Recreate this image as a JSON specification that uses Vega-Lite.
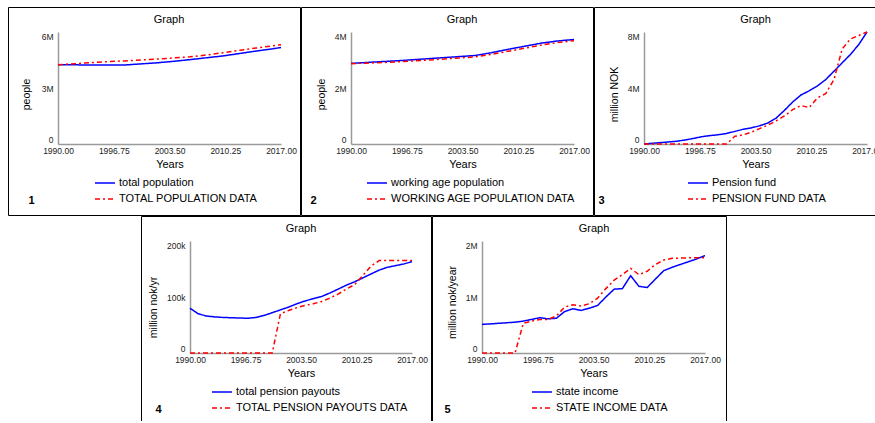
{
"$schema": "https://vega.github.io/schema/vega-lite/v6.json",
"padding": {"left": 7, "top": 6, "right": 0, "bottom": -4},
"autosize": {"type": "pad"},
"spacing": -1,
"resolve": {"scale": {"color": "independent", "strokeDash": "independent"}, "legend": {"color": "independent", "strokeDash": "independent"}},
"vconcat": [
{
"hconcat": [
{
"title": {"text": "1", "orient": "bottom", "anchor": "start", "dx": 21, "offset": -21, "baseline": "top", "fontWeight": "bold"},
"resolve": {"scale": {"color": "independent", "strokeDash": "independent"}, "legend": {"color": "independent", "strokeDash": "independent"}},
"hconcat": [{
"width": 292, "height": 208,
"title": {"text": "Graph", "anchor": "middle", "dx": 15, "dy": 12, "offset": -17, "baseline": "bottom"},
"data": {"values": [
{"year":1990,"value":4250000,"series":"total population"},
{"year":1992,"value":4240000,"series":"total population"},
{"year":1994,"value":4235000,"series":"total population"},
{"year":1996,"value":4230000,"series":"total population"},
{"year":1998,"value":4230000,"series":"total population"},
{"year":2000,"value":4290000,"series":"total population"},
{"year":2002,"value":4350000,"series":"total population"},
{"year":2004,"value":4430000,"series":"total population"},
{"year":2006,"value":4520000,"series":"total population"},
{"year":2008,"value":4620000,"series":"total population"},
{"year":2010,"value":4720000,"series":"total population"},
{"year":2012,"value":4850000,"series":"total population"},
{"year":2014,"value":4980000,"series":"total population"},
{"year":2016,"value":5100000,"series":"total population"},
{"year":2017,"value":5170000,"series":"total population"},
{"year":1990,"value":4250000,"series":"TOTAL POPULATION DATA"},
{"year":1992,"value":4300000,"series":"TOTAL POPULATION DATA"},
{"year":1994,"value":4360000,"series":"TOTAL POPULATION DATA"},
{"year":1996,"value":4410000,"series":"TOTAL POPULATION DATA"},
{"year":1998,"value":4450000,"series":"TOTAL POPULATION DATA"},
{"year":2000,"value":4500000,"series":"TOTAL POPULATION DATA"},
{"year":2002,"value":4550000,"series":"TOTAL POPULATION DATA"},
{"year":2004,"value":4610000,"series":"TOTAL POPULATION DATA"},
{"year":2006,"value":4670000,"series":"TOTAL POPULATION DATA"},
{"year":2008,"value":4770000,"series":"TOTAL POPULATION DATA"},
{"year":2010,"value":4890000,"series":"TOTAL POPULATION DATA"},
{"year":2012,"value":5020000,"series":"TOTAL POPULATION DATA"},
{"year":2014,"value":5140000,"series":"TOTAL POPULATION DATA"},
{"year":2016,"value":5260000,"series":"TOTAL POPULATION DATA"},
{"year":2017,"value":5320000,"series":"TOTAL POPULATION DATA"}
]},
"mark": {"type": "line", "strokeWidth": 1.5},
"encoding": {
"x": {"field": "year", "type": "quantitative", "scale": {"domain": [1990, 2017], "range": [50, 273], "nice": false}, "axis": {"values": [1990, 1996.75, 2003.5, 2010.25, 2017], "format": ".2f", "title": "Years", "offset": -71, "labelFlush": false, "labelPadding": 2, "titlePadding": 4, "titleFontSize": 11}},
"y": {"field": "value", "type": "quantitative", "scale": {"domain": [0, 6000000], "range": [137, 25], "nice": false, "zero": false}, "axis": {"values": [0, 3000000, 6000000], "labelExpr": "datum.value == 0 ? '0' : format(datum.value, '~s')", "title": "people", "offset": -50, "labelFlush": true, "labelPadding": 5, "titlePadding": 10, "titleFontSize": 10.5, "titleY": 87}},
"color": {"field": "series", "type": "nominal", "scale": {"domain": ["total population", "TOTAL POPULATION DATA"], "range": ["#0000ff", "#ff0000"]}, "legend": {"orient": "none", "legendX": 86, "legendY": 165, "title": null}},
"strokeDash": {"field": "series", "type": "nominal", "scale": {"domain": ["total population", "TOTAL POPULATION DATA"], "range": [[1, 0], [5, 3, 2, 3]]}, "legend": {"orient": "none", "legendX": 86, "legendY": 165, "title": null}}
}
}]
},
{
"title": {"text": "2", "orient": "bottom", "anchor": "start", "dx": 10, "offset": -21, "baseline": "top", "fontWeight": "bold"},
"resolve": {"scale": {"color": "independent", "strokeDash": "independent"}, "legend": {"color": "independent", "strokeDash": "independent"}},
"hconcat": [{
"width": 292, "height": 208,
"title": {"text": "Graph", "anchor": "middle", "dx": 15, "dy": 12, "offset": -17, "baseline": "bottom"},
"data": {"values": [
{"year":1990,"value":2880000,"series":"working age population"},
{"year":1993,"value":2930000,"series":"working age population"},
{"year":1996,"value":2980000,"series":"working age population"},
{"year":1999,"value":3040000,"series":"working age population"},
{"year":2002,"value":3100000,"series":"working age population"},
{"year":2005,"value":3160000,"series":"working age population"},
{"year":2007,"value":3260000,"series":"working age population"},
{"year":2009,"value":3380000,"series":"working age population"},
{"year":2011,"value":3490000,"series":"working age population"},
{"year":2013,"value":3600000,"series":"working age population"},
{"year":2015,"value":3680000,"series":"working age population"},
{"year":2017,"value":3730000,"series":"working age population"},
{"year":1990,"value":2870000,"series":"WORKING AGE POPULATION DATA"},
{"year":1993,"value":2900000,"series":"WORKING AGE POPULATION DATA"},
{"year":1996,"value":2940000,"series":"WORKING AGE POPULATION DATA"},
{"year":1999,"value":2990000,"series":"WORKING AGE POPULATION DATA"},
{"year":2002,"value":3050000,"series":"WORKING AGE POPULATION DATA"},
{"year":2005,"value":3110000,"series":"WORKING AGE POPULATION DATA"},
{"year":2007,"value":3200000,"series":"WORKING AGE POPULATION DATA"},
{"year":2009,"value":3310000,"series":"WORKING AGE POPULATION DATA"},
{"year":2011,"value":3420000,"series":"WORKING AGE POPULATION DATA"},
{"year":2013,"value":3530000,"series":"WORKING AGE POPULATION DATA"},
{"year":2015,"value":3620000,"series":"WORKING AGE POPULATION DATA"},
{"year":2017,"value":3690000,"series":"WORKING AGE POPULATION DATA"}
]},
"mark": {"type": "line", "strokeWidth": 1.5},
"encoding": {
"x": {"field": "year", "type": "quantitative", "scale": {"domain": [1990, 2017], "range": [50, 273], "nice": false}, "axis": {"values": [1990, 1996.75, 2003.5, 2010.25, 2017], "format": ".2f", "title": "Years", "offset": -71, "labelFlush": false, "labelPadding": 2, "titlePadding": 4, "titleFontSize": 11}},
"y": {"field": "value", "type": "quantitative", "scale": {"domain": [0, 4000000], "range": [137, 25], "nice": false, "zero": false}, "axis": {"values": [0, 2000000, 4000000], "labelExpr": "datum.value == 0 ? '0' : format(datum.value, '~s')", "title": "people", "offset": -50, "labelFlush": true, "labelPadding": 5, "titlePadding": 8, "titleFontSize": 10.5, "titleY": 87}},
"color": {"field": "series", "type": "nominal", "scale": {"domain": ["working age population", "WORKING AGE POPULATION DATA"], "range": ["#0000ff", "#ff0000"]}, "legend": {"orient": "none", "legendX": 65, "legendY": 165, "title": null}},
"strokeDash": {"field": "series", "type": "nominal", "scale": {"domain": ["working age population", "WORKING AGE POPULATION DATA"], "range": [[1, 0], [5, 3, 2, 3]]}, "legend": {"orient": "none", "legendX": 65, "legendY": 165, "title": null}}
}
}]
},
{
"title": {"text": "3", "orient": "bottom", "anchor": "start", "dx": 5, "offset": -21, "baseline": "top", "fontWeight": "bold"},
"resolve": {"scale": {"color": "independent", "strokeDash": "independent"}, "legend": {"color": "independent", "strokeDash": "independent"}},
"hconcat": [{
"width": 293, "height": 208,
"title": {"text": "Graph", "anchor": "middle", "dx": 15, "dy": 12, "offset": -17, "baseline": "bottom"},
"data": {"values": [
{"year":1990,"value":0,"series":"Pension fund"},
{"year":1991,"value":50000,"series":"Pension fund"},
{"year":1992,"value":100000,"series":"Pension fund"},
{"year":1993,"value":150000,"series":"Pension fund"},
{"year":1994,"value":200000,"series":"Pension fund"},
{"year":1995,"value":290000,"series":"Pension fund"},
{"year":1996,"value":400000,"series":"Pension fund"},
{"year":1997,"value":520000,"series":"Pension fund"},
{"year":1998,"value":600000,"series":"Pension fund"},
{"year":1999,"value":660000,"series":"Pension fund"},
{"year":2000,"value":750000,"series":"Pension fund"},
{"year":2001,"value":900000,"series":"Pension fund"},
{"year":2002,"value":1050000,"series":"Pension fund"},
{"year":2003,"value":1150000,"series":"Pension fund"},
{"year":2004,"value":1300000,"series":"Pension fund"},
{"year":2005,"value":1500000,"series":"Pension fund"},
{"year":2006,"value":1850000,"series":"Pension fund"},
{"year":2007,"value":2400000,"series":"Pension fund"},
{"year":2008,"value":3000000,"series":"Pension fund"},
{"year":2009,"value":3500000,"series":"Pension fund"},
{"year":2010,"value":3800000,"series":"Pension fund"},
{"year":2011,"value":4150000,"series":"Pension fund"},
{"year":2012,"value":4600000,"series":"Pension fund"},
{"year":2013,"value":5200000,"series":"Pension fund"},
{"year":2014,"value":5800000,"series":"Pension fund"},
{"year":2015,"value":6400000,"series":"Pension fund"},
{"year":2016,"value":7100000,"series":"Pension fund"},
{"year":2017,"value":8000000,"series":"Pension fund"},
{"year":1990,"value":0,"series":"PENSION FUND DATA"},
{"year":1992,"value":0,"series":"PENSION FUND DATA"},
{"year":1994,"value":0,"series":"PENSION FUND DATA"},
{"year":1996,"value":0,"series":"PENSION FUND DATA"},
{"year":1998,"value":0,"series":"PENSION FUND DATA"},
{"year":2000,"value":0,"series":"PENSION FUND DATA"},
{"year":2001,"value":550000,"series":"PENSION FUND DATA"},
{"year":2002,"value":650000,"series":"PENSION FUND DATA"},
{"year":2003,"value":850000,"series":"PENSION FUND DATA"},
{"year":2004,"value":1100000,"series":"PENSION FUND DATA"},
{"year":2005,"value":1350000,"series":"PENSION FUND DATA"},
{"year":2006,"value":1650000,"series":"PENSION FUND DATA"},
{"year":2007,"value":2000000,"series":"PENSION FUND DATA"},
{"year":2008,"value":2450000,"series":"PENSION FUND DATA"},
{"year":2009,"value":2750000,"series":"PENSION FUND DATA"},
{"year":2010,"value":2600000,"series":"PENSION FUND DATA"},
{"year":2011,"value":3300000,"series":"PENSION FUND DATA"},
{"year":2012,"value":3600000,"series":"PENSION FUND DATA"},
{"year":2013,"value":4600000,"series":"PENSION FUND DATA"},
{"year":2014,"value":6800000,"series":"PENSION FUND DATA"},
{"year":2015,"value":7500000,"series":"PENSION FUND DATA"},
{"year":2016,"value":7750000,"series":"PENSION FUND DATA"},
{"year":2017,"value":8000000,"series":"PENSION FUND DATA"}
]},
"mark": {"type": "line", "strokeWidth": 1.5},
"encoding": {
"x": {"field": "year", "type": "quantitative", "scale": {"domain": [1990, 2017], "range": [50, 273], "nice": false}, "axis": {"values": [1990, 1996.75, 2003.5, 2010.25, 2017], "format": ".2f", "title": "Years", "offset": -71, "labelFlush": false, "labelPadding": 2, "titlePadding": 4, "titleFontSize": 11}},
"y": {"field": "value", "type": "quantitative", "scale": {"domain": [0, 8000000], "range": [137, 25], "nice": false, "zero": false}, "axis": {"values": [0, 4000000, 8000000], "labelExpr": "datum.value == 0 ? '0' : format(datum.value, '~s')", "title": "million NOK", "offset": -50, "labelFlush": true, "labelPadding": 5, "titlePadding": 8, "titleFontSize": 10.5, "titleY": 87}},
"color": {"field": "series", "type": "nominal", "scale": {"domain": ["Pension fund", "PENSION FUND DATA"], "range": ["#0000ff", "#ff0000"]}, "legend": {"orient": "none", "legendX": 93, "legendY": 165, "title": null}},
"strokeDash": {"field": "series", "type": "nominal", "scale": {"domain": ["Pension fund", "PENSION FUND DATA"], "range": [[1, 0], [5, 3, 2, 3]]}, "legend": {"orient": "none", "legendX": 93, "legendY": 165, "title": null}}
}
}]
}
],
"spacing": -1,
"resolve": {"scale": {"color": "independent", "strokeDash": "independent"}, "legend": {"color": "independent", "strokeDash": "independent"}}
},
{
"hconcat": [
{"width": 133, "height": 10, "view": {"stroke": null}, "data": {"values": []}, "mark": "point"},
{
"title": {"text": "4", "orient": "bottom", "anchor": "start", "dx": 15, "offset": -21, "baseline": "top", "fontWeight": "bold"},
"resolve": {"scale": {"color": "independent", "strokeDash": "independent"}, "legend": {"color": "independent", "strokeDash": "independent"}},
"hconcat": [{
"width": 290, "height": 208,
"title": {"text": "Graph", "anchor": "middle", "dx": 15, "dy": 12, "offset": -17, "baseline": "bottom"},
"data": {"values": [
{"year":1990,"value":80000,"series":"total pension payouts"},
{"year":1991,"value":70000,"series":"total pension payouts"},
{"year":1992,"value":66000,"series":"total pension payouts"},
{"year":1993,"value":64500,"series":"total pension payouts"},
{"year":1994,"value":63500,"series":"total pension payouts"},
{"year":1995,"value":63000,"series":"total pension payouts"},
{"year":1996,"value":62500,"series":"total pension payouts"},
{"year":1997,"value":62000,"series":"total pension payouts"},
{"year":1998,"value":63500,"series":"total pension payouts"},
{"year":1999,"value":67000,"series":"total pension payouts"},
{"year":2000,"value":72000,"series":"total pension payouts"},
{"year":2001,"value":77000,"series":"total pension payouts"},
{"year":2002,"value":82000,"series":"total pension payouts"},
{"year":2003,"value":88000,"series":"total pension payouts"},
{"year":2004,"value":93000,"series":"total pension payouts"},
{"year":2005,"value":97000,"series":"total pension payouts"},
{"year":2006,"value":101000,"series":"total pension payouts"},
{"year":2007,"value":107000,"series":"total pension payouts"},
{"year":2008,"value":114000,"series":"total pension payouts"},
{"year":2009,"value":121000,"series":"total pension payouts"},
{"year":2010,"value":127000,"series":"total pension payouts"},
{"year":2011,"value":134000,"series":"total pension payouts"},
{"year":2012,"value":141000,"series":"total pension payouts"},
{"year":2013,"value":148000,"series":"total pension payouts"},
{"year":2014,"value":153000,"series":"total pension payouts"},
{"year":2015,"value":156000,"series":"total pension payouts"},
{"year":2016,"value":159000,"series":"total pension payouts"},
{"year":2017,"value":163000,"series":"total pension payouts"},
{"year":1990,"value":0,"series":"TOTAL PENSION PAYOUTS DATA"},
{"year":1993,"value":0,"series":"TOTAL PENSION PAYOUTS DATA"},
{"year":1996,"value":0,"series":"TOTAL PENSION PAYOUTS DATA"},
{"year":1998,"value":0,"series":"TOTAL PENSION PAYOUTS DATA"},
{"year":2000,"value":0,"series":"TOTAL PENSION PAYOUTS DATA"},
{"year":2001,"value":70000,"series":"TOTAL PENSION PAYOUTS DATA"},
{"year":2002,"value":76000,"series":"TOTAL PENSION PAYOUTS DATA"},
{"year":2003,"value":81000,"series":"TOTAL PENSION PAYOUTS DATA"},
{"year":2004,"value":85000,"series":"TOTAL PENSION PAYOUTS DATA"},
{"year":2005,"value":88000,"series":"TOTAL PENSION PAYOUTS DATA"},
{"year":2006,"value":92000,"series":"TOTAL PENSION PAYOUTS DATA"},
{"year":2007,"value":98000,"series":"TOTAL PENSION PAYOUTS DATA"},
{"year":2008,"value":105000,"series":"TOTAL PENSION PAYOUTS DATA"},
{"year":2009,"value":114000,"series":"TOTAL PENSION PAYOUTS DATA"},
{"year":2010,"value":122000,"series":"TOTAL PENSION PAYOUTS DATA"},
{"year":2011,"value":138000,"series":"TOTAL PENSION PAYOUTS DATA"},
{"year":2012,"value":155000,"series":"TOTAL PENSION PAYOUTS DATA"},
{"year":2013,"value":165000,"series":"TOTAL PENSION PAYOUTS DATA"},
{"year":2015,"value":165000,"series":"TOTAL PENSION PAYOUTS DATA"},
{"year":2017,"value":165000,"series":"TOTAL PENSION PAYOUTS DATA"}
]},
"mark": {"type": "line", "strokeWidth": 1.5},
"encoding": {
"x": {"field": "year", "type": "quantitative", "scale": {"domain": [1990, 2017], "range": [49, 271], "nice": false}, "axis": {"values": [1990, 1996.75, 2003.5, 2010.25, 2017], "format": ".2f", "title": "Years", "offset": -71, "labelFlush": false, "labelPadding": 2, "titlePadding": 4, "titleFontSize": 11}},
"y": {"field": "value", "type": "quantitative", "scale": {"domain": [0, 200000], "range": [137, 25], "nice": false, "zero": false}, "axis": {"values": [0, 100000, 200000], "labelExpr": "datum.value == 0 ? '0' : format(datum.value, '~s')", "title": "million nok/yr", "offset": -49, "labelFlush": true, "labelPadding": 5, "titlePadding": 8, "titleFontSize": 10.5, "titleY": 91}},
"color": {"field": "series", "type": "nominal", "scale": {"domain": ["total pension payouts", "TOTAL PENSION PAYOUTS DATA"], "range": ["#0000ff", "#ff0000"]}, "legend": {"orient": "none", "legendX": 70, "legendY": 165, "title": null}},
"strokeDash": {"field": "series", "type": "nominal", "scale": {"domain": ["total pension payouts", "TOTAL PENSION PAYOUTS DATA"], "range": [[1, 0], [5, 3, 2, 3]]}, "legend": {"orient": "none", "legendX": 70, "legendY": 165, "title": null}}
}
}]
},
{
"title": {"text": "5", "orient": "bottom", "anchor": "start", "dx": 13, "offset": -21, "baseline": "top", "fontWeight": "bold"},
"resolve": {"scale": {"color": "independent", "strokeDash": "independent"}, "legend": {"color": "independent", "strokeDash": "independent"}},
"hconcat": [{
"width": 294, "height": 208,
"title": {"text": "Graph", "anchor": "middle", "dx": 15, "dy": 12, "offset": -17, "baseline": "bottom"},
"data": {"values": [
{"year":1990,"value":510000,"series":"state income"},
{"year":1991,"value":520000,"series":"state income"},
{"year":1992,"value":530000,"series":"state income"},
{"year":1993,"value":540000,"series":"state income"},
{"year":1994,"value":550000,"series":"state income"},
{"year":1995,"value":570000,"series":"state income"},
{"year":1996,"value":600000,"series":"state income"},
{"year":1997,"value":630000,"series":"state income"},
{"year":1998,"value":610000,"series":"state income"},
{"year":1999,"value":620000,"series":"state income"},
{"year":2000,"value":740000,"series":"state income"},
{"year":2001,"value":790000,"series":"state income"},
{"year":2002,"value":760000,"series":"state income"},
{"year":2003,"value":800000,"series":"state income"},
{"year":2004,"value":850000,"series":"state income"},
{"year":2005,"value":1000000,"series":"state income"},
{"year":2006,"value":1140000,"series":"state income"},
{"year":2007,"value":1150000,"series":"state income"},
{"year":2008,"value":1380000,"series":"state income"},
{"year":2009,"value":1190000,"series":"state income"},
{"year":2010,"value":1170000,"series":"state income"},
{"year":2011,"value":1320000,"series":"state income"},
{"year":2012,"value":1470000,"series":"state income"},
{"year":2013,"value":1530000,"series":"state income"},
{"year":2014,"value":1580000,"series":"state income"},
{"year":2015,"value":1630000,"series":"state income"},
{"year":2016,"value":1680000,"series":"state income"},
{"year":2017,"value":1740000,"series":"state income"},
{"year":1990,"value":0,"series":"STATE INCOME DATA"},
{"year":1992,"value":0,"series":"STATE INCOME DATA"},
{"year":1994,"value":0,"series":"STATE INCOME DATA"},
{"year":1995,"value":530000,"series":"STATE INCOME DATA"},
{"year":1996,"value":570000,"series":"STATE INCOME DATA"},
{"year":1997,"value":600000,"series":"STATE INCOME DATA"},
{"year":1998,"value":600000,"series":"STATE INCOME DATA"},
{"year":1999,"value":660000,"series":"STATE INCOME DATA"},
{"year":2000,"value":820000,"series":"STATE INCOME DATA"},
{"year":2001,"value":860000,"series":"STATE INCOME DATA"},
{"year":2002,"value":840000,"series":"STATE INCOME DATA"},
{"year":2003,"value":880000,"series":"STATE INCOME DATA"},
{"year":2004,"value":980000,"series":"STATE INCOME DATA"},
{"year":2005,"value":1150000,"series":"STATE INCOME DATA"},
{"year":2006,"value":1300000,"series":"STATE INCOME DATA"},
{"year":2007,"value":1400000,"series":"STATE INCOME DATA"},
{"year":2008,"value":1510000,"series":"STATE INCOME DATA"},
{"year":2009,"value":1400000,"series":"STATE INCOME DATA"},
{"year":2010,"value":1460000,"series":"STATE INCOME DATA"},
{"year":2011,"value":1580000,"series":"STATE INCOME DATA"},
{"year":2012,"value":1660000,"series":"STATE INCOME DATA"},
{"year":2013,"value":1690000,"series":"STATE INCOME DATA"},
{"year":2015,"value":1700000,"series":"STATE INCOME DATA"},
{"year":2017,"value":1700000,"series":"STATE INCOME DATA"}
]},
"mark": {"type": "line", "strokeWidth": 1.5},
"encoding": {
"x": {"field": "year", "type": "quantitative", "scale": {"domain": [1990, 2017], "range": [50, 273], "nice": false}, "axis": {"values": [1990, 1996.75, 2003.5, 2010.25, 2017], "format": ".2f", "title": "Years", "offset": -71, "labelFlush": false, "labelPadding": 2, "titlePadding": 4, "titleFontSize": 11}},
"y": {"field": "value", "type": "quantitative", "scale": {"domain": [0, 2000000], "range": [137, 25], "nice": false, "zero": false}, "axis": {"values": [0, 1000000, 2000000], "labelExpr": "datum.value == 0 ? '0' : format(datum.value, '~s')", "title": "million nok/year", "offset": -50, "labelFlush": true, "labelPadding": 5, "titlePadding": 8, "titleFontSize": 10.5, "titleY": 86}},
"color": {"field": "series", "type": "nominal", "scale": {"domain": ["state income", "STATE INCOME DATA"], "range": ["#0000ff", "#ff0000"]}, "legend": {"orient": "none", "legendX": 99, "legendY": 165, "title": null}},
"strokeDash": {"field": "series", "type": "nominal", "scale": {"domain": ["state income", "STATE INCOME DATA"], "range": [[1, 0], [5, 3, 2, 3]]}, "legend": {"orient": "none", "legendX": 99, "legendY": 165, "title": null}}
}
}]
}
],
"spacing": -1,
"resolve": {"scale": {"color": "independent", "strokeDash": "independent"}, "legend": {"color": "independent", "strokeDash": "independent"}}
}
],
"config": {
"font": "Liberation Sans",
"background": "#ffffff",
"view": {"stroke": "#000000", "strokeWidth": 1},
"axis": {"grid": false, "ticks": false, "domainColor": "#9a9a9a", "domainWidth": 1.5, "labelFont": "Liberation Sans", "labelFontSize": 8.5, "labelColor": "#222222", "titleFont": "Liberation Sans", "titleFontWeight": "normal", "titleColor": "#000000"},
"legend": {"symbolType": "stroke", "symbolSize": 400, "symbolStrokeWidth": 1.5, "labelFont": "Liberation Sans", "labelFontSize": 11, "labelColor": "#000000", "labelOffset": 3, "rowPadding": -4, "labelLimit": 300},
"title": {"font": "Liberation Sans", "fontSize": 11, "fontWeight": "normal", "color": "#000000"}
}
}
